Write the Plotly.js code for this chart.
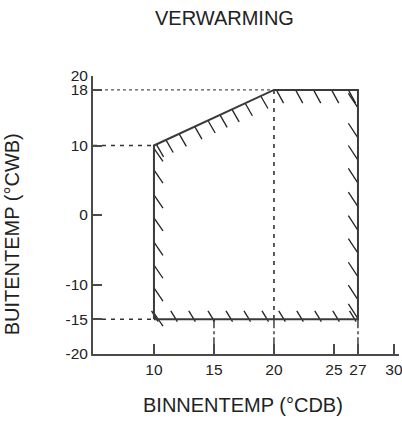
<!DOCTYPE html>
<html><head><meta charset="utf-8">
<script src="https://cdn.plot.ly/plotly-3.0.1.min.js"></script>
<style>html,body{margin:0;padding:0;background:#fff}#chart{width:402px;height:426px}</style>
</head><body><div id="chart"></div>
<script>
// Operating envelope (heating)
const polyX = [10, 10, 20, 27, 27, 10];
const polyY = [-15, 10, 18, 18, -15, -15];
const xTicks = [10, 15, 20, 25, 27, 30];
const yTicks = [-20, -15, -10, 0, 10, 18, 20];
// hatch positions along each edge
const leftHatchY = [9.6, 6.5, 2.9, -0.4, -3.9, -7.2, -10.5, -14.1];
const slopeHatchX = [10.2, 11.0, 12.1, 13.4, 14.5, 15.5, 16.5, 17.6, 18.9];
const topHatchX = [20.2, 21.8, 23.3, 24.8, 26.2];
const rightHatchY = [15.4, 11.1, 7.9, 4.6, 1.2, -2.2, -5.5, -8.9, -12.2, -14.9];
const bottomHatchX = [10.1, 11.7, 13.2, 14.8, 16.3, 17.8, 19.3, 20.7, 22.2, 23.7, 25.2, 26.6];

const xMin = 4.92, xMax = 30.42, yMin = -20, yMax = 20;
const hx = [], hy = [];
function seg(x0, y0, x1, y1) { hx.push(x0, x1, null); hy.push(y0, y1, null); }
const dX = 0.75, dY = 1.9;
leftHatchY.forEach(y => seg(polyX[0], y, polyX[0] + dX, y - dY));
slopeHatchX.forEach(x => {
  const y = polyY[1] + (polyY[2] - polyY[1]) * (x - polyX[1]) / (polyX[2] - polyX[1]);
  seg(x, y, x + 0.6, y - 1.8);
});
topHatchX.forEach(x => seg(x, polyY[2], x + 0.6, polyY[2] - 1.9));
rightHatchY.forEach(y => seg(polyX[3] - 0.8, y + 2.1, polyX[3], y));
bottomHatchX.forEach(x => seg(x - 0.3, polyY[0] + 1.2, x + 0.25, polyY[0] - 0.35));

const gray = '#4a4a4a';
const traces = [
  {x: [xMin, polyX[2]], y: [polyY[2], polyY[2]], mode: 'lines', line: {color: '#555', width: 1.2, dash: 'dot'}},
  {x: [xMin, polyX[1]], y: [polyY[1], polyY[1]], mode: 'lines', line: {color: '#333', width: 1.3, dash: '4px,5px'}},
  {x: [xMin, polyX[0]], y: [polyY[0], polyY[0]], mode: 'lines', line: {color: '#333', width: 1.3, dash: '4px,5px'}},
  {x: [polyX[2], polyX[2]], y: [polyY[2], polyY[0]], mode: 'lines', line: {color: '#333', width: 1.6, dash: '4px,5px'}},
  {x: [polyX[2], polyX[2]], y: [polyY[0], yMin], mode: 'lines', line: {color: '#333', width: 1.4, dash: 'dashdot'}},
  {x: [15, 15], y: [polyY[0], yMin], mode: 'lines', line: {color: '#333', width: 1.4, dash: 'dashdot'}},
  {x: [polyX[3], polyX[3]], y: [polyY[0], yMin], mode: 'lines', line: {color: '#333', width: 1.4, dash: 'dashdot'}},
  {x: hx, y: hy, mode: 'lines', line: {color: '#222', width: 1.3}, connectgaps: false},
  {x: polyX, y: polyY, mode: 'lines', line: {color: '#3a3a3a', width: 2}}
];

const fontFam = 'Liberation Sans, Arial, sans-serif';
const layout = {
  width: 402, height: 426,
  margin: {l: 93, r: 3, t: 76, b: 72, pad: 0},
  paper_bgcolor: '#fff', plot_bgcolor: '#fff',
  showlegend: false,
  font: {family: fontFam, color: '#222', size: 16},
  xaxis: {range: [xMin, xMax], tickvals: xTicks, ticktext: xTicks.map(String),
    showline: true, linecolor: gray, linewidth: 2, ticks: 'inside', ticklen: 10,
    tickwidth: 2, tickcolor: gray, showgrid: false, zeroline: false, fixedrange: true,
    ticklabeloverflow: 'allow', tickfont: {size: 15.5}},
  yaxis: {range: [yMin, yMax], tickvals: yTicks, ticktext: yTicks.map(String),
    showline: true, linecolor: gray, linewidth: 2, ticks: 'inside', ticklen: 9,
    tickwidth: 2, tickcolor: gray, showgrid: false, zeroline: false, fixedrange: true,
    ticklabeloverflow: 'allow', tickfont: {size: 15.5}},
  annotations: [
    {text: 'VERWARMING', xref: 'paper', yref: 'paper', x: 0.43, y: 1.21, showarrow: false,
      font: {size: 20, family: fontFam, color: '#222'}, xanchor: 'center', yanchor: 'middle'},
    {text: 'BINNENTEMP (°CDB)', xref: 'paper', yref: 'paper', x: 0.49, y: -0.183, showarrow: false,
      font: {size: 20, family: fontFam, color: '#222'}, xanchor: 'center', yanchor: 'middle'},
    {text: 'BUITENTEMP (°CWB)', xref: 'paper', yref: 'paper', x: -0.262, y: 0.43, showarrow: false,
      textangle: -90, font: {size: 20, family: fontFam, color: '#222'}, xanchor: 'center', yanchor: 'middle'}
  ]
};
Plotly.newPlot('chart', traces, layout, {displayModeBar: false, staticPlot: true});
</script></body></html>
